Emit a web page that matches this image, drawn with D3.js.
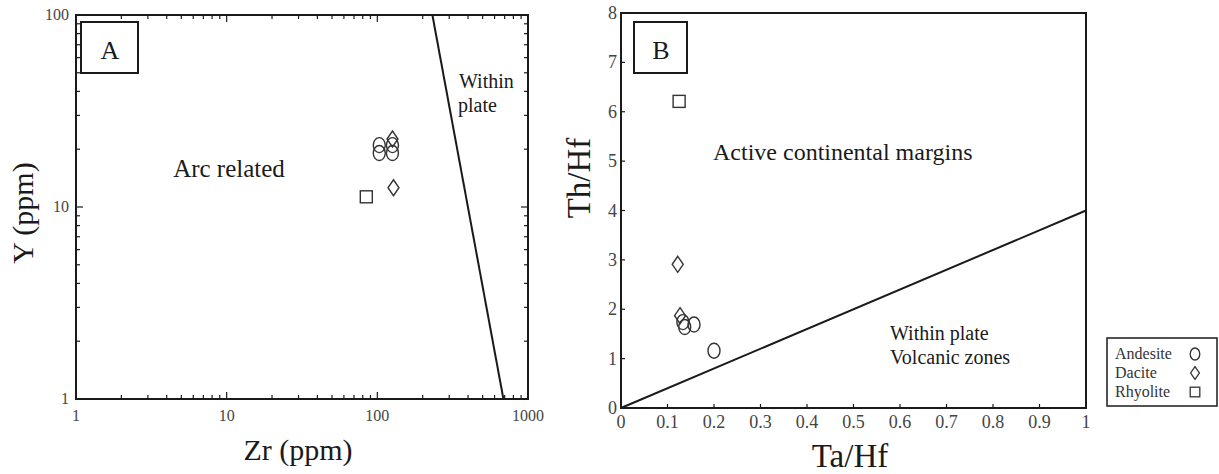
<!DOCTYPE html>
<html>
<head>
<meta charset="utf-8">
<script src="https://cdn.jsdelivr.net/npm/d3@7"></script>
<style>
  body { margin: 0; background: #fff; }
  svg { font-family: "Liberation Serif", "Times New Roman", serif; }
</style>
</head>
<body>
<div id="chart"></div>
<script>
// Panel A data: Zr (ppm) vs Y (ppm)
const andesiteA = [[103, 21], [126, 21], [103, 19.1], [126, 19.1]];
const daciteA = [[126, 22.6], [128, 12.6]];
const rhyoliteA = [[84.5, 11.3]];
const boundaryA = [[232, 100], [687, 1]]; // arc related / within plate

// Panel B data: Ta/Hf vs Th/Hf
const andesiteB = [[0.133, 1.74], [0.137, 1.64], [0.157, 1.69], [0.2, 1.16]];
const daciteB = [[0.122, 2.91], [0.127, 1.87]];
const rhyoliteB = [[0.125, 6.21]];
const boundaryB = [[0, 0], [1, 4]];

const xTicksA = [1, 10, 100, 1000];
const yTicksA = [1, 10, 100];
const xTicksB = [0, 0.1, 0.2, 0.3, 0.4, 0.5, 0.6, 0.7, 0.8, 0.9, 1];
const yTicksB = [0, 1, 2, 3, 4, 5, 6, 7, 8];

const legendItems = [["Andesite", "circle"], ["Dacite", "diamond"], ["Rhyolite", "square"]];

const ink = "#1a1a1a";
const markInk = "#333";

const svg = d3.select("#chart")
  .append("svg")
  .attr("width", 1219)
  .attr("height", 474);

// draw one marker (open symbols like the original)
function marker(g, type, x, y, s) {
  s = s || 1;
  if (type === "circle") {
    g.append("ellipse").attr("cx", x).attr("cy", y)
      .attr("rx", 6 * s).attr("ry", 7.5 * s);
  } else if (type === "diamond") {
    g.append("path")
      .attr("d", `M${x},${y - 8 * s}L${x + 5.5 * s},${y}L${x},${y + 8 * s}L${x - 5.5 * s},${y}Z`);
  } else {
    g.append("rect").attr("x", x - 6 * s).attr("y", y - 6 * s)
      .attr("width", 12 * s).attr("height", 12 * s);
  }
}

// ---------- Panel A ----------
const xA = d3.scaleLog().domain([1, 1000]).range([76, 528]);
const yA = d3.scaleLog().domain([1, 100]).range([399, 15]);

const gA = svg.append("g");

// log ticks, all pointing inside
const minorX = [];
for (let d = 1; d < 1000; d *= 10) for (let k = 1; k <= 9; k++) minorX.push(d * k);
minorX.push(1000);
const minorY = minorX.filter(v => v <= 100);

minorX.forEach(v => {
  const len = xTicksA.includes(v) ? 7 : 4;
  gA.append("line").attr("x1", xA(v)).attr("x2", xA(v))
    .attr("y1", yA(1)).attr("y2", yA(1) - len).attr("stroke", ink).attr("stroke-width", 1.2);
  gA.append("line").attr("x1", xA(v)).attr("x2", xA(v))
    .attr("y1", yA(100)).attr("y2", yA(100) + len).attr("stroke", ink).attr("stroke-width", 1.2);
});
minorY.forEach(v => {
  const len = yTicksA.includes(v) ? 7 : 4;
  gA.append("line").attr("x1", xA(1)).attr("x2", xA(1) + len)
    .attr("y1", yA(v)).attr("y2", yA(v)).attr("stroke", ink).attr("stroke-width", 1.2);
  gA.append("line").attr("x1", xA(1000)).attr("x2", xA(1000) - len)
    .attr("y1", yA(v)).attr("y2", yA(v)).attr("stroke", ink).attr("stroke-width", 1.2);
});

// frame
gA.append("rect")
  .attr("x", xA(1)).attr("y", yA(100))
  .attr("width", xA(1000) - xA(1)).attr("height", yA(1) - yA(100))
  .attr("fill", "none").attr("stroke", ink).attr("stroke-width", 2);

// tick labels
gA.selectAll(".xl").data(xTicksA).enter().append("text")
  .attr("x", d => xA(d)).attr("y", 421)
  .attr("text-anchor", "middle").attr("font-size", 16).attr("fill", "#444")
  .text(d => d);
gA.selectAll(".yl").data(yTicksA).enter().append("text")
  .attr("x", 69).attr("y", d => yA(d) + 5)
  .attr("text-anchor", "end").attr("font-size", 16).attr("fill", "#444")
  .text(d => d);

// boundary line
gA.append("line")
  .attr("x1", xA(boundaryA[0][0])).attr("y1", yA(boundaryA[0][1]))
  .attr("x2", xA(boundaryA[1][0])).attr("y2", yA(boundaryA[1][1]))
  .attr("stroke", ink).attr("stroke-width", 2);

// label box A
gA.append("rect").attr("x", 81).attr("y", 22).attr("width", 57).attr("height", 51)
  .attr("fill", "#fff").attr("stroke", ink).attr("stroke-width", 2);
gA.append("text").attr("x", 110).attr("y", 59).attr("text-anchor", "middle")
  .attr("font-size", 26).attr("fill", ink).text("A");

// field names
gA.append("text").attr("x", 229).attr("y", 177).attr("text-anchor", "middle")
  .attr("font-size", 25).attr("fill", ink).text("Arc related");
gA.append("text").attr("x", 459).attr("y", 88)
  .attr("font-size", 20).attr("fill", ink).text("Within");
gA.append("text").attr("x", 458).attr("y", 112)
  .attr("font-size", 20).attr("fill", ink).text("plate");

// axis titles
gA.append("text").attr("x", 298).attr("y", 460).attr("text-anchor", "middle")
  .attr("font-size", 30).attr("fill", ink).text("Zr (ppm)");
gA.append("text").attr("transform", "translate(33,213) rotate(-90)")
  .attr("text-anchor", "middle").attr("font-size", 30).attr("fill", ink).text("Y (ppm)");

// markers
const mA = gA.append("g").attr("fill", "none").attr("stroke", markInk).attr("stroke-width", 1.4);
andesiteA.forEach(d => marker(mA, "circle", xA(d[0]), yA(d[1])));
daciteA.forEach(d => marker(mA, "diamond", xA(d[0]), yA(d[1])));
rhyoliteA.forEach(d => marker(mA, "square", xA(d[0]), yA(d[1])));

// ---------- Panel B ----------
const xB = d3.scaleLinear().domain([0, 1]).range([621, 1086]);
const yB = d3.scaleLinear().domain([0, 8]).range([408, 13]);

const gB = svg.append("g");

// ticks inside on left and bottom
xTicksB.forEach(v => {
  gB.append("line").attr("x1", xB(v)).attr("x2", xB(v))
    .attr("y1", yB(0)).attr("y2", yB(0) - 4).attr("stroke", ink).attr("stroke-width", 1.2);
});
yTicksB.forEach(v => {
  gB.append("line").attr("x1", xB(0)).attr("x2", xB(0) + 4)
    .attr("y1", yB(v)).attr("y2", yB(v)).attr("stroke", ink).attr("stroke-width", 1.2);
});

gB.append("rect")
  .attr("x", xB(0)).attr("y", yB(8))
  .attr("width", xB(1) - xB(0)).attr("height", yB(0) - yB(8))
  .attr("fill", "none").attr("stroke", ink).attr("stroke-width", 2);

gB.selectAll(".xl").data(xTicksB).enter().append("text")
  .attr("x", d => xB(d)).attr("y", 428)
  .attr("text-anchor", "middle").attr("font-size", 18).attr("fill", "#444")
  .text(d => d);
gB.selectAll(".yl").data(yTicksB).enter().append("text")
  .attr("x", 617).attr("y", d => yB(d) + 6)
  .attr("text-anchor", "end").attr("font-size", 18).attr("fill", "#444")
  .text(d => d);

gB.append("line")
  .attr("x1", xB(boundaryB[0][0])).attr("y1", yB(boundaryB[0][1]))
  .attr("x2", xB(boundaryB[1][0])).attr("y2", yB(boundaryB[1][1]))
  .attr("stroke", ink).attr("stroke-width", 2);

gB.append("rect").attr("x", 634).attr("y", 22).attr("width", 53).attr("height", 51)
  .attr("fill", "#fff").attr("stroke", ink).attr("stroke-width", 2);
gB.append("text").attr("x", 661).attr("y", 59).attr("text-anchor", "middle")
  .attr("font-size", 26).attr("fill", ink).text("B");

gB.append("text").attr("x", 713).attr("y", 160)
  .attr("font-size", 24).attr("fill", ink).text("Active continental margins");
gB.append("text").attr("x", 890).attr("y", 340)
  .attr("font-size", 20).attr("fill", ink).text("Within plate");
gB.append("text").attr("x", 890).attr("y", 364)
  .attr("font-size", 20).attr("fill", ink).text("Volcanic zones");

gB.append("text").attr("x", 850).attr("y", 467).attr("text-anchor", "middle")
  .attr("font-size", 33).attr("fill", ink).text("Ta/Hf");
gB.append("text").attr("transform", "translate(590,178) rotate(-90)")
  .attr("text-anchor", "middle").attr("font-size", 33).attr("fill", ink).text("Th/Hf");

const mB = gB.append("g").attr("fill", "none").attr("stroke", markInk).attr("stroke-width", 1.4);
andesiteB.forEach(d => marker(mB, "circle", xB(d[0]), yB(d[1])));
daciteB.forEach(d => marker(mB, "diamond", xB(d[0]), yB(d[1])));
rhyoliteB.forEach(d => marker(mB, "square", xB(d[0]), yB(d[1])));

// ---------- Legend ----------
const lg = svg.append("g");
lg.append("rect").attr("x", 1107).attr("y", 338).attr("width", 110).attr("height", 68)
  .attr("fill", "#fff").attr("stroke", ink).attr("stroke-width", 1.5);
const lm = lg.append("g").attr("fill", "none").attr("stroke", markInk).attr("stroke-width", 1.3);
legendItems.forEach((d, i) => {
  const cy = 354 + i * 19;
  lg.append("text").attr("x", 1115).attr("y", cy + 5)
    .attr("font-size", 16).attr("fill", "#333").text(d[0]);
  marker(lm, d[1], 1195, cy, 0.8);
});
</script>
</body>
</html>
